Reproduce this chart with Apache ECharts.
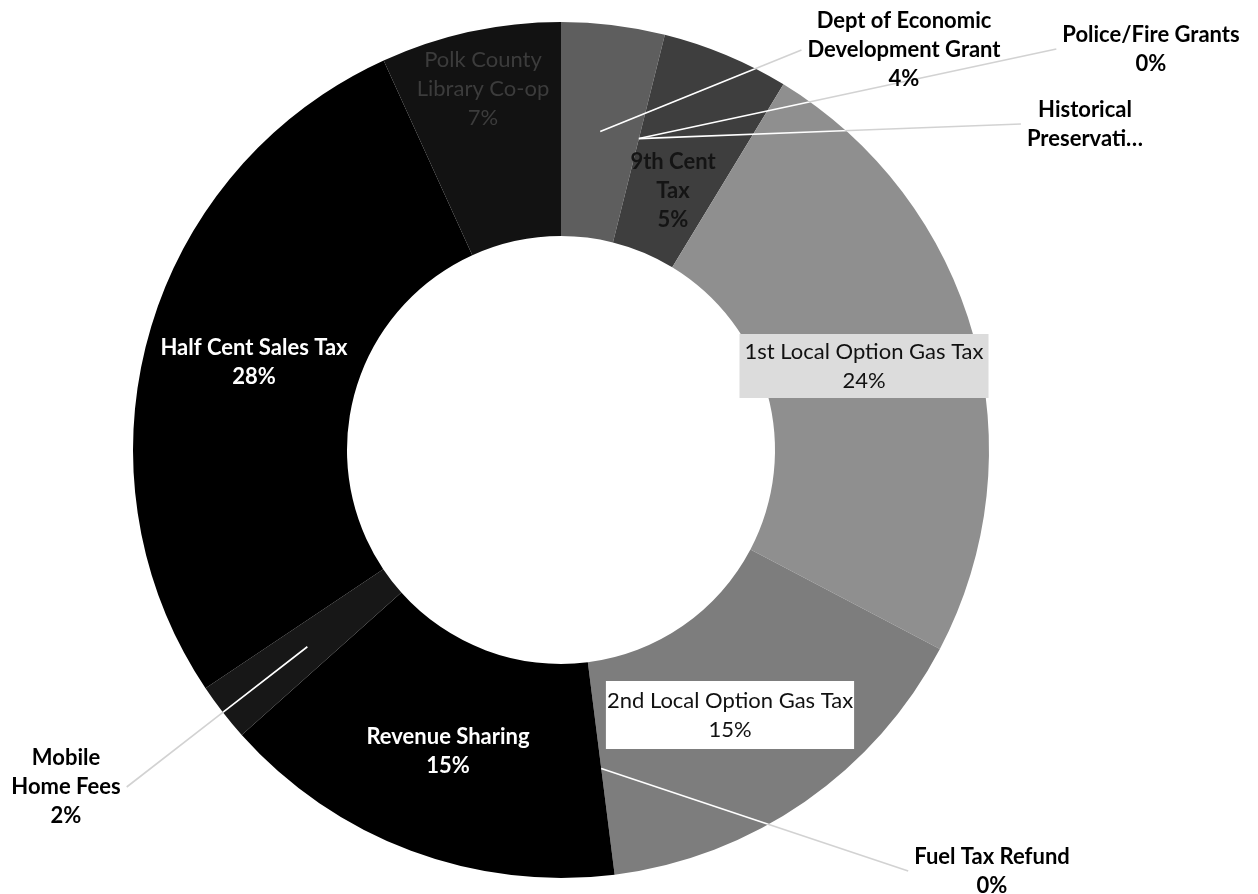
<!DOCTYPE html>
<html>
<head>
<meta charset="utf-8">
<script src="https://cdn.jsdelivr.net/npm/echarts@6/dist/echarts.min.js"></script>
<style>
  html, body { margin: 0; padding: 0; background: #ffffff; }
  #chart { width: 1258px; height: 894px; }
</style>
</head>
<body>
<div id="chart"></div>
<script>
// Revenue sources, clockwise from 12 o'clock
const categories = [
  'Dept of Economic Development Grant',
  'Police/Fire Grants',
  'Historical Preservation',
  '9th Cent Tax',
  '1st Local Option Gas Tax',
  '2nd Local Option Gas Tax',
  'Fuel Tax Refund',
  'Revenue Sharing',
  'Mobile Home Fees',
  'Half Cent Sales Tax',
  'Polk County Library Co-op'
];
// Share of total revenue, percent
const shares = [3.9, 0, 0, 4.8, 24, 15.3, 0, 15.4, 2.2, 27.6, 6.8];
// Label text as wrapped on the chart
const labelNames = [
  'Dept of Economic\nDevelopment Grant',
  'Police/Fire Grants',
  'Historical\nPreservati\u2026',
  '9th Cent\nTax',
  '1st Local Option Gas Tax',
  '2nd Local Option Gas Tax',
  'Fuel Tax Refund',
  'Revenue Sharing',
  'Mobile\nHome Fees',
  'Half Cent Sales Tax',
  'Polk County\nLibrary Co-op'
];
// Labels whose text is cut short and shows no percentage
const truncatedLabels = [2];

const FONT = 'Lato, "Open Sans", sans-serif';

const sliceColors = ['#5e5e5e', '#8a8a8a', '#9a9a9a', '#3e3e3e', '#8f8f8f', '#7d7d7d',
                     '#777777', '#000000', '#171717', '#000000', '#121212'];

const outsideLabel = { color: '#000', fontWeight: 'bold' };
const labelStyles = [
  outsideLabel,
  outsideLabel,
  outsideLabel,
  { color: '#141414', fontWeight: 'bold' },
  { color: '#111', fontWeight: 'normal', backgroundColor: '#dcdcdc', padding: [4, 5, 2, 5] },
  { color: '#111', fontWeight: 'normal', backgroundColor: '#ffffff', padding: [5, 1, 5, 1] },
  outsideLabel,
  { color: '#fff', fontWeight: 'bold' },
  outsideLabel,
  { color: '#fff', fontWeight: 'bold' },
  { color: '#3c3c3c', fontWeight: 'normal' }
];

// Where each label sits; "side" marks labels outside the ring with a leader line
const placements = [
  { x: 904, y: 50, side: 'right' },
  { x: 1151, y: 49, side: 'right' },
  { x: 1085, y: 124, side: 'right' },
  { x: 673, y: 191 },
  { x: 864, y: 366 },
  { x: 730, y: 715 },
  { x: 992, y: 871, side: 'right' },
  { x: 448, y: 751 },
  { x: 66, y: 787, side: 'left' },
  { x: 254, y: 362 },
  { x: 483, y: 89 }
];

const CX = 561, CY = 450, R0 = 214, R1 = 428;

// Leader lines: white over the ring, faint grey outside it
const leaderColor = new echarts.graphic.RadialGradient(CX, CY, R1, [
  { offset: 0, color: '#ffffff' },
  { offset: 0.997, color: '#ffffff' },
  { offset: 1, color: '#d2d2d2' }
], true);

const chart = echarts.init(document.getElementById('chart'), null, { renderer: 'canvas' });

const ringData = categories.map((name, i) => ({
  name: name,
  value: shares[i],
  itemStyle: { color: sliceColors[i] }
}));

// Same ring drawn again on top, see-through, so labels and leader lines sit above the slices
const labelData = categories.map((name, i) => {
  const outside = !!placements[i].side;
  return {
    name: name,
    value: shares[i],
    label: Object.assign({ position: outside ? 'outside' : 'inside' }, labelStyles[i]),
    labelLine: { show: outside }
  };
});

const ringBase = {
  type: 'pie',
  center: [CX, CY],
  radius: [R0, R1],
  startAngle: 90,
  clockwise: true,
  avoidLabelOverlap: false,
  minShowLabelAngle: 0,
  emphasis: { disabled: true },
  silent: true
};

chart.setOption({
  backgroundColor: '#ffffff',
  animation: false,
  series: [
    Object.assign({}, ringBase, {
      z: 2,
      data: ringData,
      label: { show: false },
      labelLine: { show: false }
    }),
    Object.assign({}, ringBase, {
      z: 3,
      data: labelData,
      itemStyle: { color: 'rgba(0,0,0,0)' },
      label: {
        show: true,
        fontFamily: FONT,
        fontSize: 22,
        lineHeight: 29,
        align: 'center',
        formatter: function (p) {
          const text = labelNames[p.dataIndex];
          if (truncatedLabels.indexOf(p.dataIndex) >= 0) return text;
          return text + '\n' + Math.round(p.percent) + '%';
        }
      },
      labelLine: {
        show: true,
        smooth: false,
        lineStyle: { color: leaderColor, width: 1.6 }
      },
      labelLayout: function (params) {
        const spot = placements[params.dataIndex];
        const out = { x: spot.x, y: spot.y, align: 'center', verticalAlign: 'middle' };
        if (spot.side) {
          const lay = chart.getModel().getSeriesByIndex(1).getData().getItemLayout(params.dataIndex);
          const mid = (lay.startAngle + lay.endAngle) / 2;
          const rm = (lay.r0 + lay.r) / 2;
          const ax = lay.cx + rm * Math.cos(mid);
          const ay = lay.cy + rm * Math.sin(mid);
          const half = params.labelRect.width / 2 + 6;
          const ex = spot.side === 'right' ? spot.x - half : spot.x + half;
          const ey = spot.y;
          out.labelLinePoints = [[ax, ay], [(ax + ex) / 2, (ay + ey) / 2], [ex, ey]];
        }
        return out;
      }
    })
  ]
});
</script>
</body>
</html>
